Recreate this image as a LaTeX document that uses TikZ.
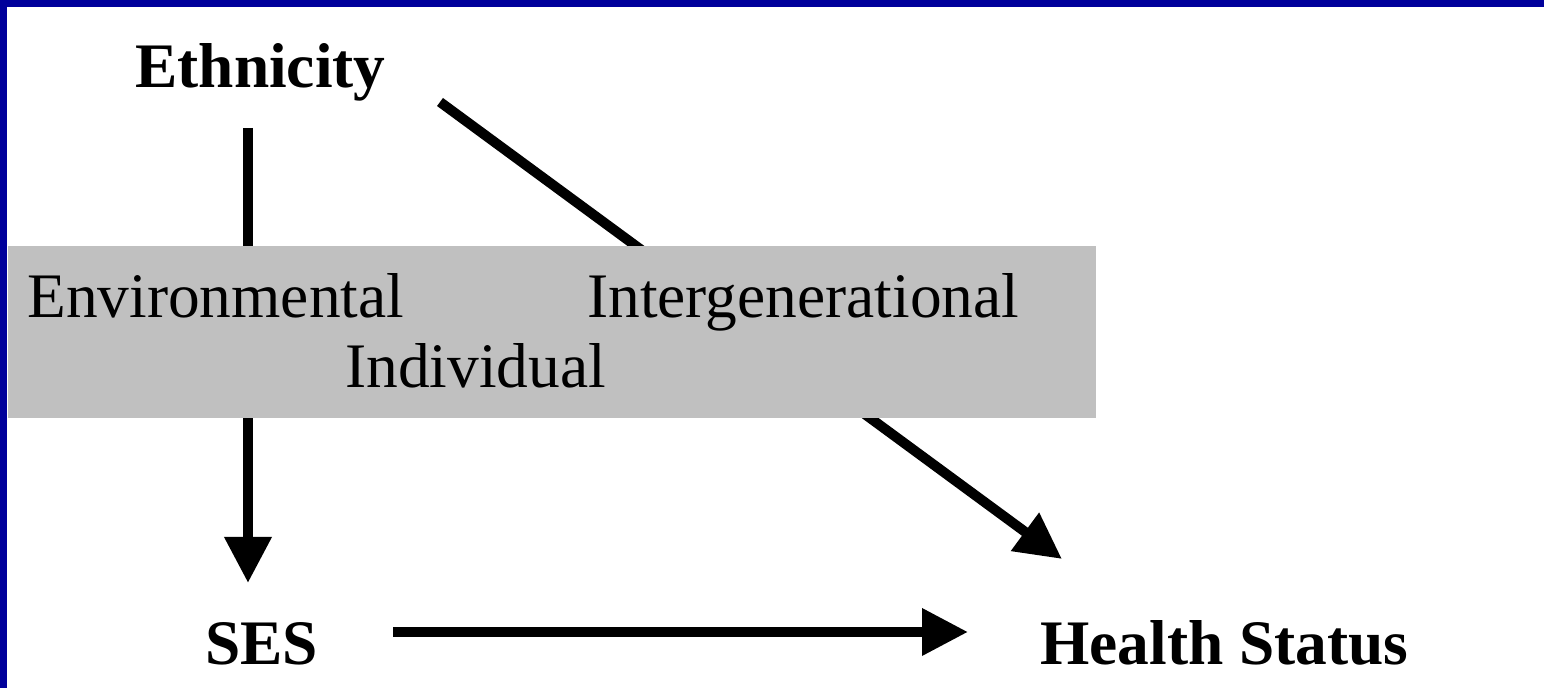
\documentclass[tikz,border=0pt]{standalone}
\usepackage{fontspec}
\setmainfont{Liberation Serif}
\usetikzlibrary{arrows.meta}
\definecolor{frameblue}{RGB}{0,0,155}
\definecolor{boxgray}{RGB}{192,192,192}
\begin{document}
\begin{tikzpicture}[x=0.5pt,y=-0.5pt,
  lbl/.style={inner sep=0pt,font=\fontsize{31.7}{38}\selectfont},
  blbl/.style={lbl,font=\fontsize{31.7}{38}\selectfont\bfseries},
  arr/.style={line width=5pt,-{Triangle[length=23pt,width=22.5pt]}}]
\useasboundingbox (0,0) rectangle (1544,688);
\fill[white] (0,0) rectangle (1544,688);
\fill[frameblue] (0,0) rectangle (1544,7);
\fill[frameblue] (0,0) rectangle (7,688);
% nodes
\node[blbl,anchor=base west] (eth) at (135,88) {Ethnicity};
\node[blbl,anchor=base west] (ses) at (205,665) {SES};
\node[blbl,anchor=base west] (hs) at (1040,665) {Health Status};
% connector end points
\coordinate (v1) at (248,128);
\coordinate (v2) at (248,583);
\coordinate (d1) at (440,102);
\coordinate (d2) at (1062,559);
\coordinate (h1) at (393,632);
\coordinate (h2) at (968,632);
\draw[arr] (v1) -- (v2);
\draw[arr] (d1) -- (d2);
\draw[arr] (h1) -- (h2);
% gray box
\node[fill=boxgray,inner sep=0pt,minimum width=1088*0.5pt,minimum height=172*0.5pt,anchor=north west] (box) at (8,246) {};
\node[lbl,anchor=base west] (env) at (27,318) {Environmental};
\node[lbl,anchor=base west] (inter) at (587,318) {Intergenerational};
\node[lbl,anchor=base west] (ind) at (345,388) {Individual};
\end{tikzpicture}
\end{document}
